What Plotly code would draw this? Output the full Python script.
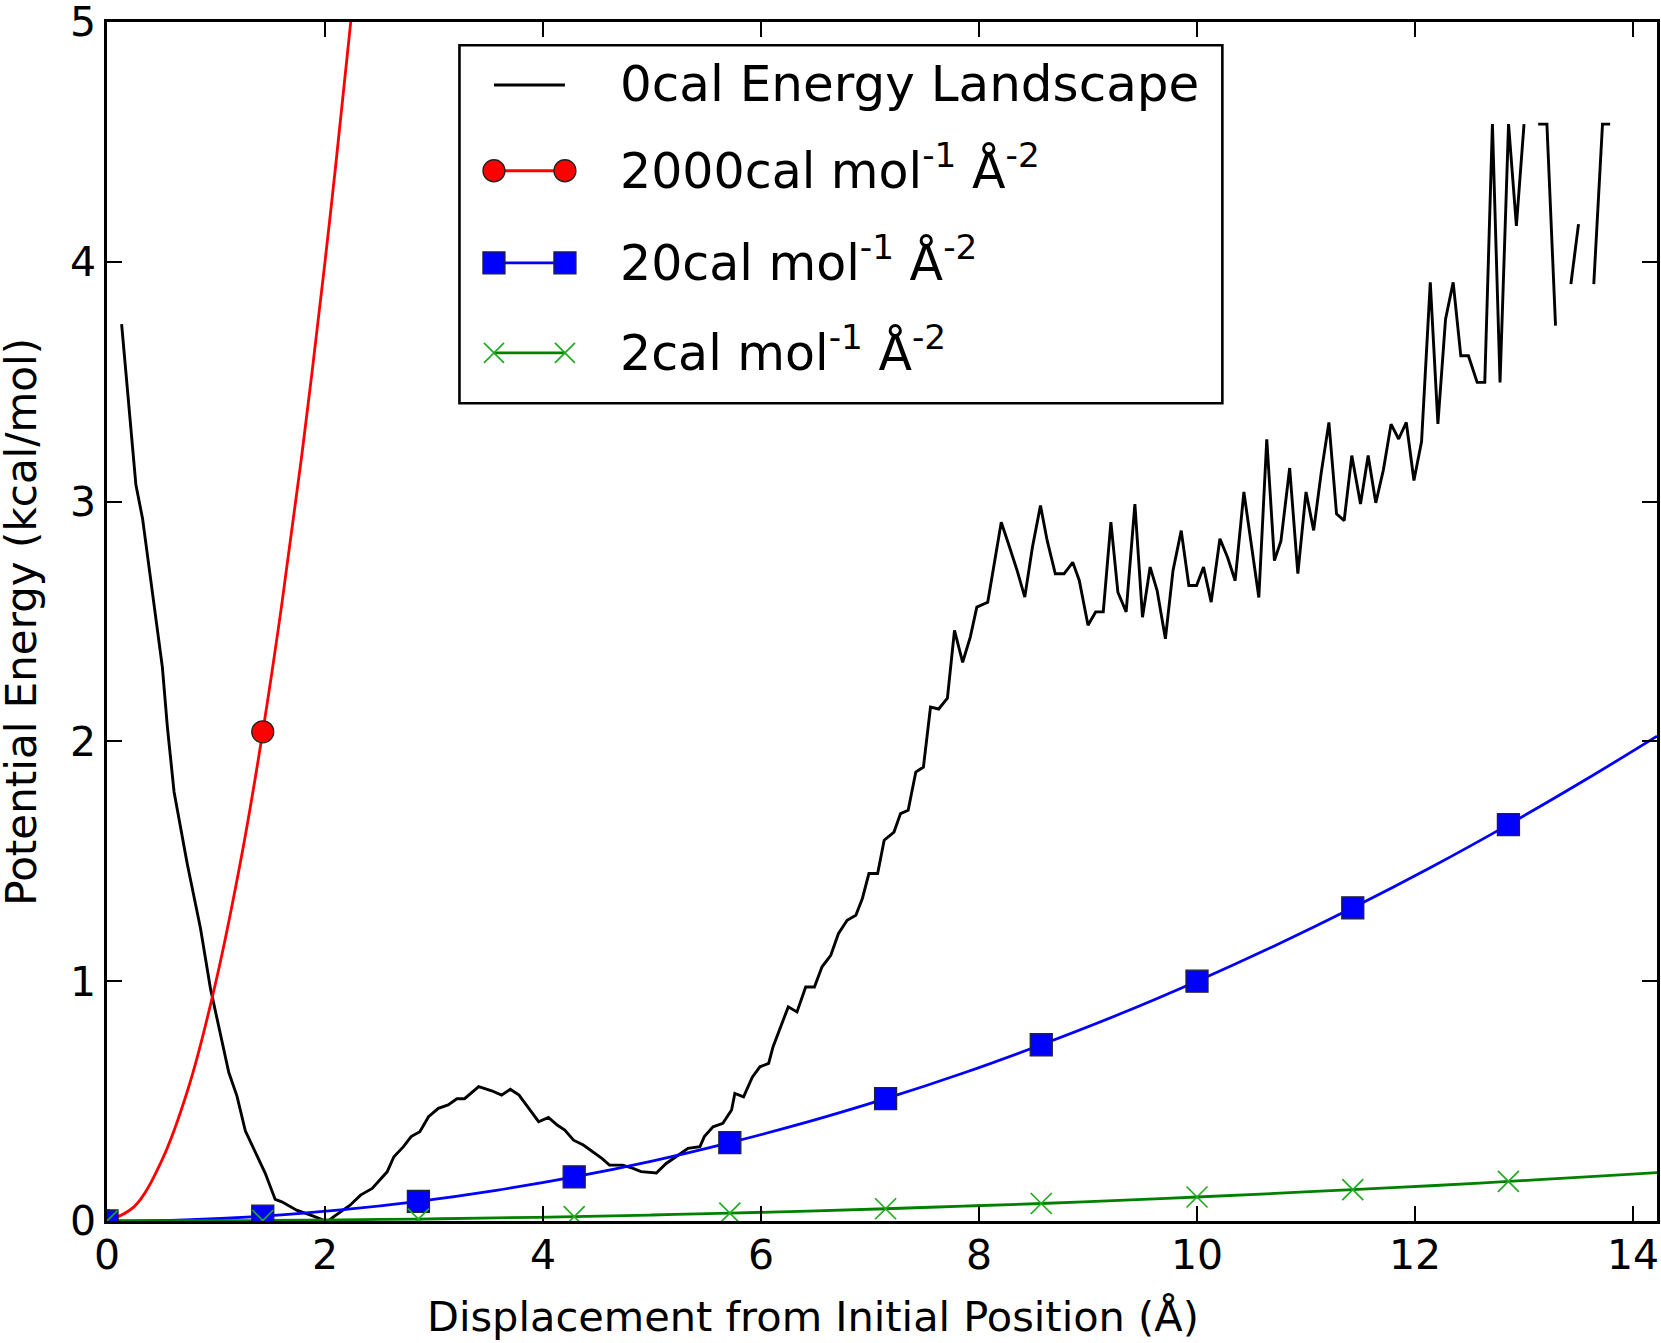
import plotly.graph_objects as go

# ---------------- data ----------------
# 0 cal landscape (None = gap in the trace)
land_x = [0.134, 0.265, 0.326, 0.432, 0.508, 0.554, 0.615, 0.736, 0.858, 0.949,
          1.117, 1.193, 1.269, 1.451, 1.543, 1.604, 1.740, 1.893, 1.98, 2.03,
          2.081, 2.23, 2.326, 2.433, 2.57, 2.632, 2.72, 2.79, 2.87, 2.95,
          3.04, 3.13, 3.21, 3.28, 3.41, 3.53, 3.62, 3.70, 3.78, 3.88,
          3.96, 4.05, 4.13, 4.20, 4.28, 4.37, 4.46, 4.54, 4.61, 4.73,
          4.82, 4.90, 5.04, 5.13, 5.22, 5.33, 5.44, 5.48, 5.56, 5.65,
          5.73, 5.76, 5.84, 5.92, 5.99, 6.07, 6.11, 6.18, 6.25, 6.33,
          6.41, 6.49, 6.56, 6.64, 6.71, 6.79, 6.87, 6.93, 6.99, 7.07,
          7.13, 7.22, 7.28, 7.35, 7.42, 7.49, 7.555, 7.63, 7.71, 7.775,
          7.85, 7.92, 7.98, 8.08, 8.12, 8.204, 8.27, 8.35, 8.42, 8.49,
          8.564, 8.625, 8.70, 8.78, 8.86, 8.92, 9.00, 9.07, 9.14, 9.21,
          9.274, 9.35, 9.43, 9.50, 9.57, 9.634, 9.71, 9.78, 9.855, 9.925,
          9.996, 10.06, 10.13, 10.21, 10.28, 10.35, 10.43, 10.567, 10.64, 10.71,
          10.77, 10.85, 10.925, 11.00, 11.07, 11.14, 11.21, 11.28, 11.35, 11.42,
          11.50, 11.57, 11.64, 11.71, 11.78, 11.85, 11.92, 11.99, 12.06, 12.14,
          12.21, 12.28, 12.35, 12.42, 12.49, 12.57, 12.64, 12.71, 12.78, 12.858,
          12.93, 13.00, 13.07, 13.13, 13.21, 13.289, 13.36, 13.43, 13.50, 13.57,
          13.64, 13.72, 13.79]
land_y = [3.74, 3.07, 2.93, 2.58, 2.31, 2.06, 1.79, 1.49, 1.22, 0.97,
          0.62, 0.52, 0.376, 0.20, 0.09, 0.08, 0.045, 0.02, 0.005, 0.0,
          0.018, 0.066, 0.108, 0.136, 0.205, 0.268, 0.31, 0.352, 0.372, 0.435,
          0.47, 0.484, 0.51, 0.51, 0.56, 0.543, 0.525, 0.549, 0.525, 0.463,
          0.414, 0.432, 0.40, 0.379, 0.337, 0.317, 0.289, 0.261, 0.233, 0.233,
          0.22, 0.206, 0.20, 0.24, 0.268, 0.303, 0.31, 0.352, 0.393, 0.407,
          0.463, 0.532, 0.518, 0.60, 0.643, 0.657, 0.726, 0.81, 0.893, 0.872,
          0.976, 0.976, 1.06, 1.108, 1.198, 1.254, 1.275, 1.345, 1.449, 1.449,
          1.588, 1.622, 1.699, 1.713, 1.872, 1.893, 2.143, 2.135, 2.18, 2.463,
          2.33, 2.435, 2.56, 2.58, 2.685, 2.914, 2.824, 2.712, 2.602, 2.81,
          2.984, 2.838, 2.699, 2.699, 2.747, 2.671, 2.484, 2.54, 2.54, 2.914,
          2.622, 2.54, 2.99, 2.518, 2.727, 2.629, 2.428, 2.713, 2.879, 2.65,
          2.65, 2.727, 2.581, 2.845, 2.768, 2.67, 3.04, 2.60, 3.26, 2.754,
          2.836, 3.14, 2.70, 3.04, 2.88, 3.122, 3.33, 2.949, 2.921, 3.192,
          2.99, 3.192, 2.995, 3.133, 3.323, 3.261, 3.33, 3.088, 3.25, 3.914,
          3.324, 3.761, 3.914, 3.608, 3.608, 3.497, 3.497, 4.574, 3.497, 4.574,
          4.15, 4.574, None, 4.574, 4.574, 3.734, None, 3.907, 4.157, None,
          3.907, 4.574, 4.574]

# restraint curves
curve_x = [0, 0.714, 1.429, 2.143, 2.857, 3.571, 4.286, 5.0, 5.714, 6.429,
           7.143, 7.857, 8.571, 9.286, 10.0, 10.714, 11.429, 12.143, 12.857,
           13.571, 14.22]
blue_y = [0, 0.005, 0.02, 0.046, 0.082, 0.128, 0.184, 0.25, 0.327, 0.413,
          0.51, 0.617, 0.735, 0.862, 1.0, 1.148, 1.306, 1.474, 1.653,
          1.842, 2.022]
green_y = [0, 0.001, 0.002, 0.005, 0.008, 0.013, 0.018, 0.025, 0.033, 0.041,
           0.051, 0.062, 0.073, 0.086, 0.1, 0.115, 0.131, 0.147, 0.165,
           0.184, 0.202]
red_x = [0, 0.25, 0.5, 0.75, 1.0, 1.25, 1.429, 1.6, 1.8, 2.0, 2.1, 2.25]
red_y = [0, 0.06, 0.25, 0.56, 1.0, 1.56, 2.04, 2.56, 3.24, 4.0, 4.41, 5.06]

mark_x = [0, 1.429, 2.857, 4.286, 5.714, 7.143, 8.571, 10.0, 11.429, 12.857]
mark_blue = [0, 0.02, 0.082, 0.184, 0.327, 0.51, 0.735, 1.0, 1.306, 1.653]
mark_green = [0, 0.002, 0.008, 0.018, 0.033, 0.051, 0.073, 0.1, 0.131, 0.165]
mark_red_x = [0, 1.429]
mark_red = [0, 2.04]

x_ticks = [0, 2, 4, 6, 8, 10, 12, 14]
y_ticks = [0, 1, 2, 3, 4, 5]

legend_labels = ["0cal Energy Landscape",
                 "2000cal mol<sup>-1</sup> Å<sup>-2</sup>",
                 "20cal mol<sup>-1</sup> Å<sup>-2</sup>",
                 "2cal mol<sup>-1</sup> Å<sup>-2</sup>"]
x_title = "Displacement from Initial Position (Å)"
y_title = "Potential Energy (kcal/mol)"

# ---------------- layout geometry ----------------
W, H = 1661, 1343
L, R, T, B = 106.5, 1656.7, 21.7, 1221.0
FONT = "DejaVu Sans"

def px(xp):
    return (xp - L) / (R - L)

def py(yp):
    return (B - yp) / (B - T)

fig = go.Figure()

fig.add_trace(go.Scatter(x=land_x, y=land_y, mode="lines",
                         line=dict(color="black", width=2.9),
                         connectgaps=False, showlegend=False))
fig.add_trace(go.Scatter(x=red_x, y=red_y, mode="lines",
                         line=dict(color="#ff0000", width=2.8, shape="spline"),
                         showlegend=False))
fig.add_trace(go.Scatter(x=curve_x, y=blue_y, mode="lines",
                         line=dict(color="#0000ff", width=2.8, shape="spline"),
                         showlegend=False))
fig.add_trace(go.Scatter(x=curve_x, y=green_y, mode="lines",
                         line=dict(color="#008000", width=2.8, shape="spline"),
                         showlegend=False))
fig.add_trace(go.Scatter(x=mark_red_x, y=mark_red, mode="markers",
                         marker=dict(symbol="circle", size=22, color="#ff0000",
                                     line=dict(color="#222222", width=1.3)),
                         showlegend=False))
fig.add_trace(go.Scatter(x=mark_x, y=mark_blue, mode="markers",
                         marker=dict(symbol="square", size=22, color="#0000ff",
                                     line=dict(color="#222233", width=1.3)),
                         showlegend=False))
fig.add_trace(go.Scatter(x=mark_x, y=mark_green, mode="markers",
                         marker=dict(symbol="x-thin", size=21, color="#008000",
                                     line=dict(color="#22aa22", width=1.7)),
                         showlegend=False))

# ---------------- custom legend (matplotlib style) ----------------
shapes = []
annotations = []
shapes.append(dict(type="rect", xref="paper", yref="paper",
                   x0=px(459), x1=px(1222), y0=py(403), y1=py(45),
                   line=dict(color="black", width=2.6), fillcolor="white",
                   layer="above"))
rows = [84.7, 170.5, 262.7, 352.7]
text_dy = [-1, -3, -3, -3]
hx0, hx1 = 493.5, 564.5
colors = ["black", "#ff0000", "#0000ff", "#008000"]
for i, (yr, c) in enumerate(zip(rows, colors)):
    shapes.append(dict(type="line", xref="paper", yref="paper",
                       x0=px(hx0), x1=px(hx1), y0=py(yr), y1=py(yr),
                       line=dict(color=c, width=2.9 if i == 0 else 2.8),
                       layer="above"))
    for hx in (hx0, hx1):
        if i == 1:
            r = 11
            shapes.append(dict(type="circle", xref="paper", yref="paper",
                               x0=px(hx - r), x1=px(hx + r), y0=py(yr + r), y1=py(yr - r),
                               fillcolor="#ff0000", line=dict(color="#222222", width=1.3),
                               layer="above"))
        elif i == 2:
            r = 11
            shapes.append(dict(type="rect", xref="paper", yref="paper",
                               x0=px(hx - r), x1=px(hx + r), y0=py(yr + r), y1=py(yr - r),
                               fillcolor="#0000ff", line=dict(color="#222233", width=1.3),
                               layer="above"))
        elif i == 3:
            r = 10
            for s in (1, -1):
                shapes.append(dict(type="line", xref="paper", yref="paper",
                                   x0=px(hx - r), x1=px(hx + r),
                                   y0=py(yr + s * r), y1=py(yr - s * r),
                                   line=dict(color="#22aa22", width=1.7),
                                   layer="above"))
    annotations.append(dict(xref="paper", yref="paper", x=px(618), y=py(yr + text_dy[i]),
                            xanchor="left", yanchor="middle", showarrow=False,
                            text=legend_labels[i],
                            font=dict(family=FONT, size=50 if i == 0 else 49,
                                      color="black")))

# axis titles as annotations (positioned like the reference)
annotations.append(dict(xref="paper", yref="paper", x=px(813), y=py(1317),
                        xanchor="center", yanchor="middle", showarrow=False,
                        text=x_title, font=dict(family=FONT, size=41.5, color="black")))
annotations.append(dict(xref="paper", yref="paper", x=px(21), y=py(622),
                        xanchor="center", yanchor="middle", showarrow=False,
                        textangle=-90,
                        text=y_title, font=dict(family=FONT, size=42, color="black")))

fig.update_layout(
    template="none",
    width=W, height=H,
    margin=dict(l=L, r=W - R, t=T, b=H - B, pad=0, autoexpand=False),
    paper_bgcolor="white", plot_bgcolor="white",
    font=dict(family=FONT, color="black"),
    shapes=shapes, annotations=annotations,
    showlegend=False,
)
axis_common = dict(showline=True, linecolor="black", linewidth=2.6, mirror="allticks",
                   ticks="inside", ticklen=15, tickwidth=1.6, tickcolor="black",
                   showgrid=False, zeroline=False, automargin=False,
                   ticklabeloverflow="allow",
                   tickfont=dict(family=FONT, size=41, color="black"))
fig.update_xaxes(range=[0, 14.22], tickvals=x_ticks, ticktext=[str(v) for v in x_ticks],
                 ticklabelstandoff=-4, **axis_common)
fig.update_yaxes(range=[0, 5], tickvals=y_ticks, ticktext=[str(v) for v in y_ticks],
                 ticklabelstandoff=0, **axis_common)

fig.write_html("out.html",
               config={"displayModeBar": False},
               post_script="document.body.style.margin='0px';"
                           "document.body.style.padding='0px';")
